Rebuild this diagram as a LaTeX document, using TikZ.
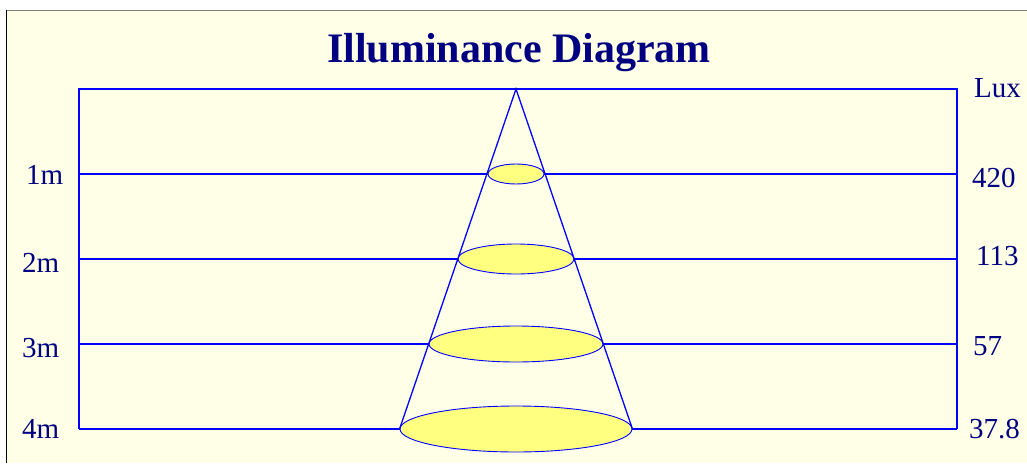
\documentclass[tikz,border=0pt]{standalone}
\usepackage{fontspec}
\setmainfont{Liberation Serif}
\usepackage{xcolor}
\usepackage{tikz}
\usetikzlibrary{shapes.geometric}
\definecolor{cream}{HTML}{FFFFE8}
\definecolor{lineblue}{HTML}{0000FF}
\definecolor{spotyellow}{HTML}{FFFF80}
\definecolor{labnavy}{HTML}{000080}
\tikzset{
  gridln/.style ={draw=lineblue, line width=1.3pt},
  spot/.style   ={ellipse, draw=lineblue, line width=0.9pt, fill=spotyellow,
                  inner sep=0pt},
  lbl/.style    ={text=labnavy, inner sep=0pt, anchor=base west,
                  font=\fontsize{29}{31}\selectfont},
}

\begin{document}
\begin{tikzpicture}[x=1pt, y=-1pt]
  \useasboundingbox (0,0) rectangle (1027,463);
  % panel
  \fill[cream] (6,10) rectangle (1027,463);
  \draw[gray, line width=1.2pt] (6,10.5) -- (1027,10.5);
  \draw[black, line width=1.5pt] (6.5,10) -- (6.5,463);

  \node[text=labnavy, font=\fontsize{42}{44}\selectfont\bfseries, anchor=base]
    (title) at (519,62) {Illuminance Diagram};

  % frame and cone
  \coordinate (apex) at (516,89);
  \coordinate (tl) at (79,89);
  \coordinate (tr) at (957,89);
  \foreach \i/\y/\rx/\ry in {1/174/28/10, 2/259/58/15, 3/344/87/18, 4/429/116/23}{
    \coordinate (l\i) at (79,\y);
    \coordinate (r\i) at (957,\y);
    \node[spot, minimum width=2*\rx pt, minimum height=2*\ry pt] (e\i) at (516,\y) {};
    \draw[gridln] (l\i) -- (e\i.west);
    \draw[gridln] (e\i.east) -- (r\i);
  }
  \draw[gridln] (l4) -- (tl) -- (tr) -- (r4);
  \draw[gridln] (e4.west) -- (apex) -- (e4.east);

  % distances
  \node[lbl] (d1) at (26,184) {1m};
  \node[lbl] (d2) at (22,272) {2m};
  \node[lbl] (d3) at (22,357) {3m};
  \node[lbl] (d4) at (22,438) {4m};

  % lux values
  \node[lbl] (unit) at (974,97) {Lux};
  \node[lbl] (x1) at (972,187) {420};
  \node[lbl] (x2) at (976,265) {113};
  \node[lbl] (x3) at (973,355) {57};
  \node[lbl] (x4) at (969,438) {37.8};
\end{tikzpicture}
\end{document}
